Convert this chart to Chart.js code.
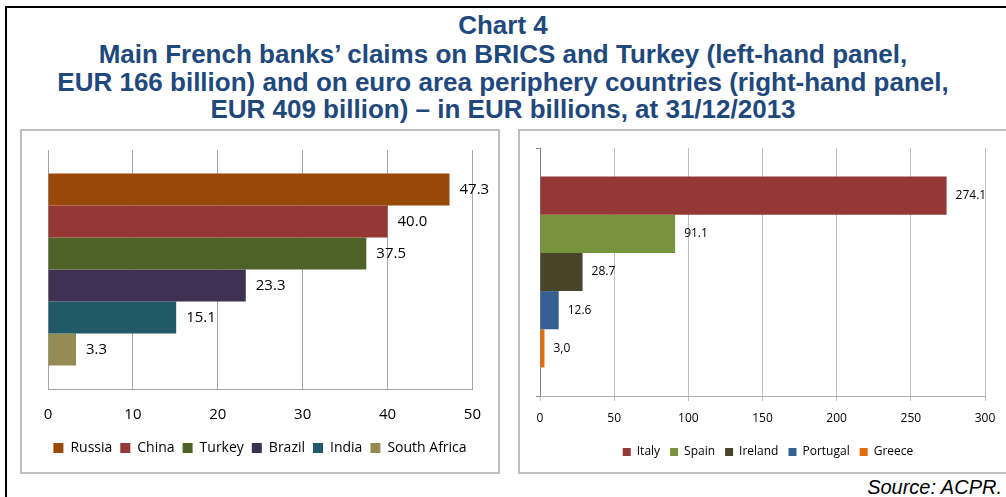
<!DOCTYPE html>
<html>
<head>
<meta charset="utf-8">
<script src="https://cdn.jsdelivr.net/npm/chart.js@4.4.1/dist/chart.umd.min.js"></script>
<style>
  html, body { margin: 0; padding: 0; background: #fff; overflow: hidden; }
  body { width: 1006px; height: 497px; position: relative; }
  .outer { position: absolute; left: 5px; top: 6px; width: 1100px; height: 600px; border: 2px solid #000; box-sizing: border-box; }
  .tline { position: absolute; left: 0; width: 1006px; text-align: center; font-family: "Liberation Sans", Arial, sans-serif; font-weight: bold; font-size: 26px; line-height: 28px; color: #1F497D; white-space: nowrap; }
  .frame { position: absolute; border: 2px solid #BFBFBF; box-sizing: border-box; }
  .box { position: absolute; }
  .source { position: absolute; right: 4px; top: 477px; font-family: "Liberation Sans", Arial, sans-serif; font-style: italic; font-size: 20px; line-height: 20px; color: #000; white-space: nowrap; }
</style>
</head>
<body>
<div class="outer"></div>
<div class="tline" style="top:11px">Chart 4</div>
<div class="tline" style="top:40px">Main French banks’ claims on BRICS and Turkey (left-hand panel,</div>
<div class="tline" style="top:68px">EUR 166 billion) and on euro area periphery countries (right-hand panel,</div>
<div class="tline" style="top:95px">EUR 409 billion) – in EUR billions, at 31/12/2013</div>

<div class="frame" style="left:20px; top:129px; width:480px; height:345px;"></div>
<div class="box" style="left:22px; top:131px; width:476px; height:341px;"><canvas id="left"></canvas></div>

<div class="frame" style="left:518px; top:129px; width:500px; height:345px;"></div>
<div class="box" style="left:520px; top:131px; width:496px; height:341px;"><canvas id="right"></canvas></div>

<div class="source">Source: ACPR.</div>

<script>
// ---- Data ----
const leftCountries = ['Russia', 'China', 'Turkey', 'Brazil', 'India', 'South Africa'];
const leftValues = [47.3, 40.0, 37.5, 23.3, 15.1, 3.3];
const leftLabels = ['47.3', '40.0', '37.5', '23.3', '15.1', '3.3'];
const leftColors = ['#984807', '#953735', '#4F6228', '#3F3151', '#215968', '#948A54'];
const leftTicks = [0, 10, 20, 30, 40, 50];

const rightCountries = ['Italy', 'Spain', 'Ireland', 'Portugal', 'Greece'];
const rightValues = [274.1, 91.1, 28.7, 12.6, 3.0];
const rightLabels = ['274.1', '91.1', '28.7', '12.6', '3,0'];
const rightColors = ['#953735', '#77933C', '#4A452A', '#376092', '#E46C0A'];
const rightTicks = [0, 50, 100, 150, 200, 250, 300];

const FONT = '"Open Sans", "Noto Sans", sans-serif';

function valueLabelPlugin(labels, fontSize, offset) {
  return {
    id: 'valueLabels',
    afterDatasetsDraw(chart) {
      const ctx = chart.ctx;
      ctx.save();
      ctx.font = fontSize + 'px ' + FONT;
      ctx.fillStyle = '#000';
      ctx.textAlign = 'left';
      ctx.textBaseline = 'middle';
      chart.data.datasets.forEach((ds, i) => {
        const meta = chart.getDatasetMeta(i);
        meta.data.forEach((bar) => {
          ctx.fillText(labels[i], bar.x + offset, bar.y);
        });
      });
      ctx.restore();
    }
  };
}

function makeDatasets(names, values, colors) {
  return names.map((n, i) => ({
    label: n,
    data: [values[i]],
    backgroundColor: colors[i],
    borderColor: colors[i],
    borderWidth: 0
  }));
}

function spacer(pos, w) {
  return {
    type: 'linear', position: pos, display: true,
    afterFit: (s) => { s.width = w; },
    grid: { display: false }, border: { display: false }, ticks: { display: false }
  };
}

// ---- Left panel ----
new Chart(document.getElementById('left'), {
  type: 'bar',
  data: { labels: [''], datasets: makeDatasets(leftCountries, leftValues, leftColors) },
  options: {
    indexAxis: 'y',
    responsive: true,
    maintainAspectRatio: false,
    animation: false,
    events: [],
    categoryPercentage: 0.803,
    barPercentage: 1.0,
    layout: { padding: { left: 0, right: 0, top: 19, bottom: 7 } },
    scales: {
      y: {
        display: true,
        afterFit: (s) => { s.width = 26; },
        grid: { display: false }, border: { display: false }, ticks: { display: false }
      },
      yR: spacer('right', 25),
      x: {
        min: leftTicks[0], max: leftTicks[leftTicks.length - 1],
        afterBuildTicks: (s) => { s.ticks = leftTicks.map(v => ({ value: v })); },
        afterFit: (s) => { s.height = 44; },
        grid: { color: '#A6A6A6', lineWidth: 1, drawTicks: false },
        border: { display: true, color: '#A6A6A6', width: 1 },
        ticks: { color: '#000', font: { family: FONT, size: 15 }, padding: 17, maxRotation: 0 }
      }
    },
    plugins: {
      legend: {
        position: 'bottom',
        labels: { boxWidth: 10, boxHeight: 10, padding: 8, color: '#000', font: { family: FONT, size: 14 } }
      },
      tooltip: { enabled: false },
      title: { display: false }
    }
  },
  plugins: [valueLabelPlugin(leftLabels, 15, 10)]
});

// ---- Right panel ----
new Chart(document.getElementById('right'), {
  type: 'bar',
  data: { labels: [''], datasets: makeDatasets(rightCountries, rightValues, rightColors) },
  options: {
    indexAxis: 'y',
    responsive: true,
    maintainAspectRatio: false,
    animation: false,
    events: [],
    categoryPercentage: 0.77,
    barPercentage: 1.0,
    layout: { padding: { left: 0, right: 0, top: 17, bottom: 4 } },
    scales: {
      y: {
        display: true,
        afterFit: (s) => { s.width = 20; },
        grid: { drawOnChartArea: false, drawTicks: true, tickLength: 4, color: '#868686', offset: true },
        border: { display: true, color: '#868686', width: 1 },
        ticks: { display: false }
      },
      yR: spacer('right', 31),
      x: {
        min: rightTicks[0], max: rightTicks[rightTicks.length - 1],
        afterBuildTicks: (s) => { s.ticks = rightTicks.map(v => ({ value: v })); },
        afterFit: (s) => { s.height = 40; },
        grid: { color: '#BFBFBF', lineWidth: 1, drawTicks: true, tickLength: 5 },
        border: { display: true, color: '#B0B0B0', width: 1 },
        ticks: { color: '#000', font: { family: FONT, size: 12 }, padding: 10, maxRotation: 0 }
      }
    },
    plugins: {
      legend: {
        position: 'bottom',
        labels: { boxWidth: 8, boxHeight: 8, padding: 10, color: '#000', font: { family: FONT, size: 12 } }
      },
      tooltip: { enabled: false },
      title: { display: false }
    }
  },
  plugins: [valueLabelPlugin(rightLabels, 12, 9)]
});
</script>
</body>
</html>
